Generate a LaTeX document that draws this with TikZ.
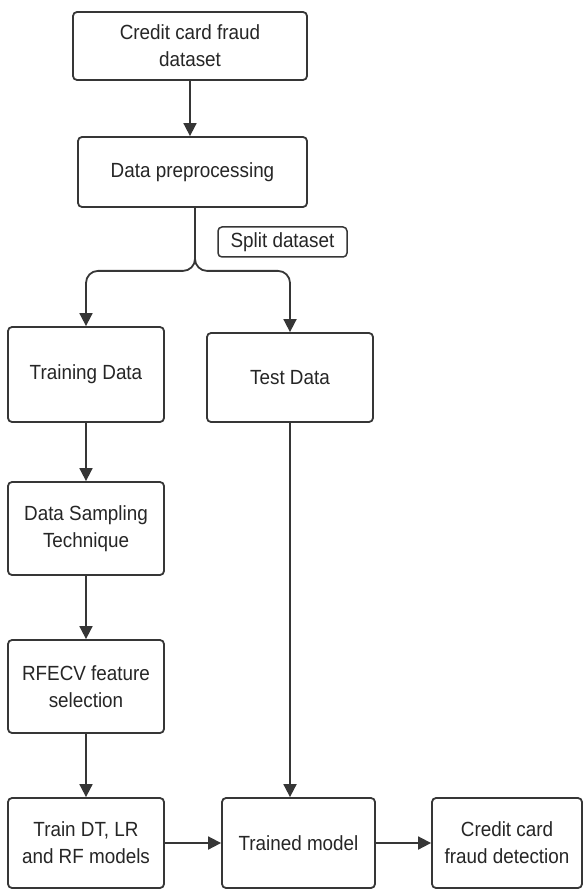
\documentclass[tikz,border=0pt]{standalone}
\usepackage{fontspec}
\setmainfont{Liberation Sans}[FakeStretch=0.92]
\usetikzlibrary{arrows.meta}
\definecolor{ink}{HTML}{363636}
\definecolor{txt}{HTML}{262626}
\tikzset{
  box/.style={draw=ink, line width=1.8pt, rounded corners=4pt, fill=white,
    align=center, inner sep=0pt, text=txt,
    font=\fontsize{20.5}{27}\selectfont},
  flow/.style={draw=ink, line width=1.8pt,
    -{Triangle[length=13pt,width=13pt]}},
}
\begin{document}
\begin{tikzpicture}[x=1pt,y=-1pt]
\useasboundingbox (0,0) rectangle (584,890);

\node[box, minimum width=234pt, minimum height=68pt] (cd) at (190,46) {Credit card fraud\\dataset};
\node[box, minimum width=229pt, minimum height=70pt] (dp) at (192.5,172) {Data preprocessing};
\node[box, minimum width=129pt, minimum height=30pt, line width=1.5pt] (sp) at (282.5,242) {Split dataset};

\node[box, minimum width=156pt, minimum height=95pt] (tr) at (86,374.5) {Training Data};
\node[box, minimum width=166pt, minimum height=89pt] (td) at (290,377.5) {Test Data};
\node[box, minimum width=156pt, minimum height=93pt] (ds) at (86,528.5) {Data Sampling\\Technique};
\node[box, minimum width=156pt, minimum height=93pt] (rf) at (86,686.5) {RFECV feature\\selection};

\node[box, minimum width=156pt, minimum height=90pt] (tw) at (86,843) {Train DT, LR\\and RF models};
\node[box, minimum width=153pt, minimum height=90pt] (tm) at (298.5,843) {Trained model};
\node[box, minimum width=150pt, minimum height=90pt] (cf) at (507,843) {Credit card\\fraud detection};

% main flow
\draw[flow] (cd.south) -- (cd.south |- dp.north);
\coordinate (fork) at ([xshift=2.5pt]dp.south);
\draw[flow, rounded corners=12pt] (fork) -- ++(0,63) -| (tr.north);
\draw[flow, rounded corners=12pt] (fork) -- ++(0,63) -| (td.north);

% training branch
\draw[flow] (tr.south) -- (tr.south |- ds.north);
\draw[flow] (ds.south) -- (ds.south |- rf.north);
\draw[flow] (rf.south) -- (rf.south |- tw.north);

% test branch and results
\draw[flow] (td.south) -- (td.south |- tm.north);
\draw[flow] (tw.east) -- (tm.west);
\draw[flow] (tm.east) -- (cf.west);
\end{tikzpicture}
\end{document}
